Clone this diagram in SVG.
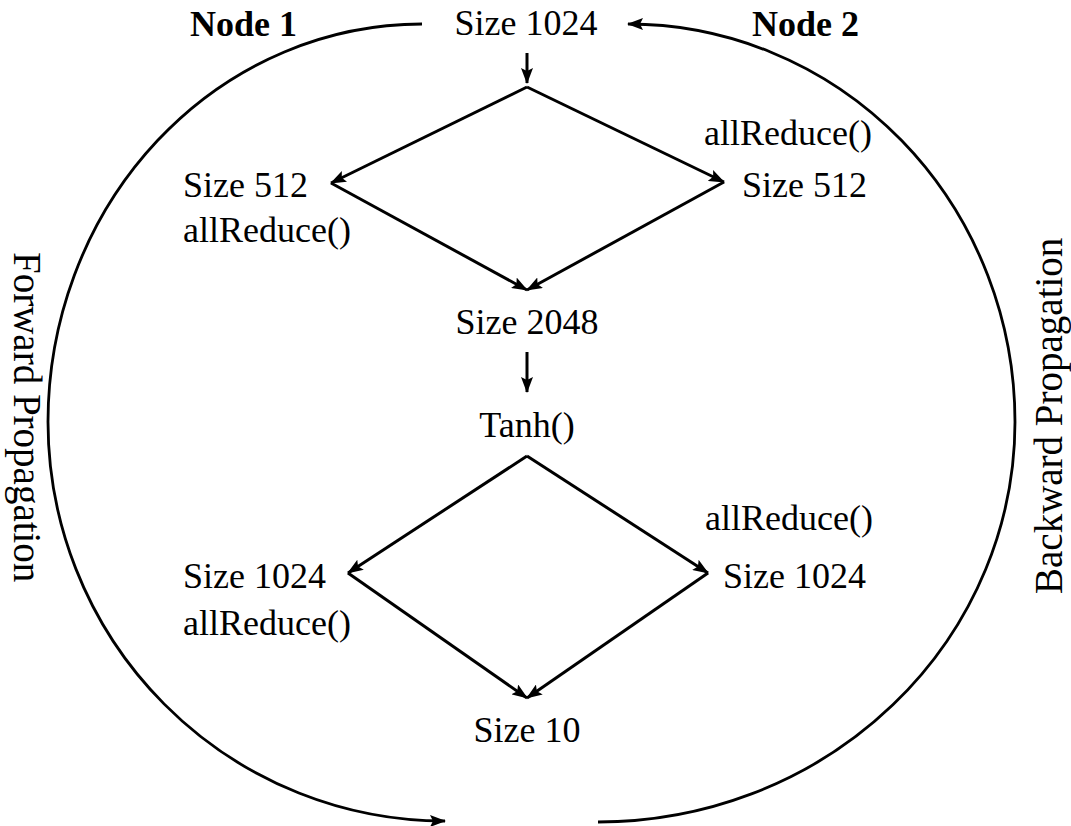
<svg xmlns="http://www.w3.org/2000/svg" width="1071" height="826" viewBox="0 0 1071 826">
  <defs>
    <style>
      text { font-family: "Liberation Serif", "Times New Roman", serif; font-size: 36px; fill: #000; }
      .bold { font-weight: bold; }
      .mid { text-anchor: middle; }
      .side { font-size: 39px; }
      .edge { fill: none; stroke: #000; stroke-width: 3; }
      .loop { fill: none; stroke: #000; stroke-width: 2.8; }
    </style>
    <marker id="head" viewBox="0 0 16 12" refX="15" refY="6" markerWidth="16" markerHeight="12" markerUnits="userSpaceOnUse" orient="auto">
      <path d="M0,0 L16,6 L0,12 L3,6 Z" fill="#000"/>
    </marker>
  </defs>
  <rect width="1071" height="826" fill="#fff"/>

  <!-- side labels -->
  <text class="bold" x="190" y="36">Node 1</text>
  <text class="bold" x="752" y="36">Node 2</text>
  <text class="side" transform="translate(14,252) rotate(90)">Forward Propagation</text>
  <text class="side" transform="translate(1062,594) rotate(-90)">Backward Propagation</text>

  <!-- connectors -->
  <g id="connectors">
    <path class="loop" d="M422,24 A374,398 0 0 0 48,422 A397,399 0 0 0 445,821" marker-end="url(#head)"/>
    <path class="loop" d="M598,822 A417,400 0 0 0 1015,422 A387,398 0 0 0 628,24" marker-end="url(#head)"/>
    <path class="edge" d="M527,53 L527,83" marker-end="url(#head)"/>
    <path class="edge" d="M527,87 L331,183" marker-end="url(#head)"/>
    <path class="edge" d="M527,87 L724,182" marker-end="url(#head)"/>
    <path class="edge" d="M331,183 L527,290" marker-end="url(#head)"/>
    <path class="edge" d="M724,182 L527,290" marker-end="url(#head)"/>
    <path class="edge" d="M527,352 L527,392" marker-end="url(#head)"/>
    <path class="edge" d="M527,456 L348,573" marker-end="url(#head)"/>
    <path class="edge" d="M527,456 L708,573" marker-end="url(#head)"/>
    <path class="edge" d="M348,573 L527,698" marker-end="url(#head)"/>
    <path class="edge" d="M708,573 L527,698" marker-end="url(#head)"/>
  </g>

  <g id="input"><text class="mid" x="526" y="35">Size 1024</text></g>
  <g id="split1-left"><text x="183" y="197">Size 512</text><text x="183" y="242">allReduce()</text></g>
  <g id="split1-right"><text x="704" y="145">allReduce()</text><text x="742" y="197">Size 512</text></g>
  <g id="hidden"><text class="mid" x="527" y="334">Size 2048</text></g>
  <g id="activation"><text class="mid" x="527" y="437">Tanh()</text></g>
  <g id="split2-left"><text x="183" y="588">Size 1024</text><text x="183" y="635">allReduce()</text></g>
  <g id="split2-right"><text x="705" y="530">allReduce()</text><text x="723" y="588">Size 1024</text></g>
  <g id="output"><text class="mid" x="527" y="742">Size 10</text></g>
</svg>
